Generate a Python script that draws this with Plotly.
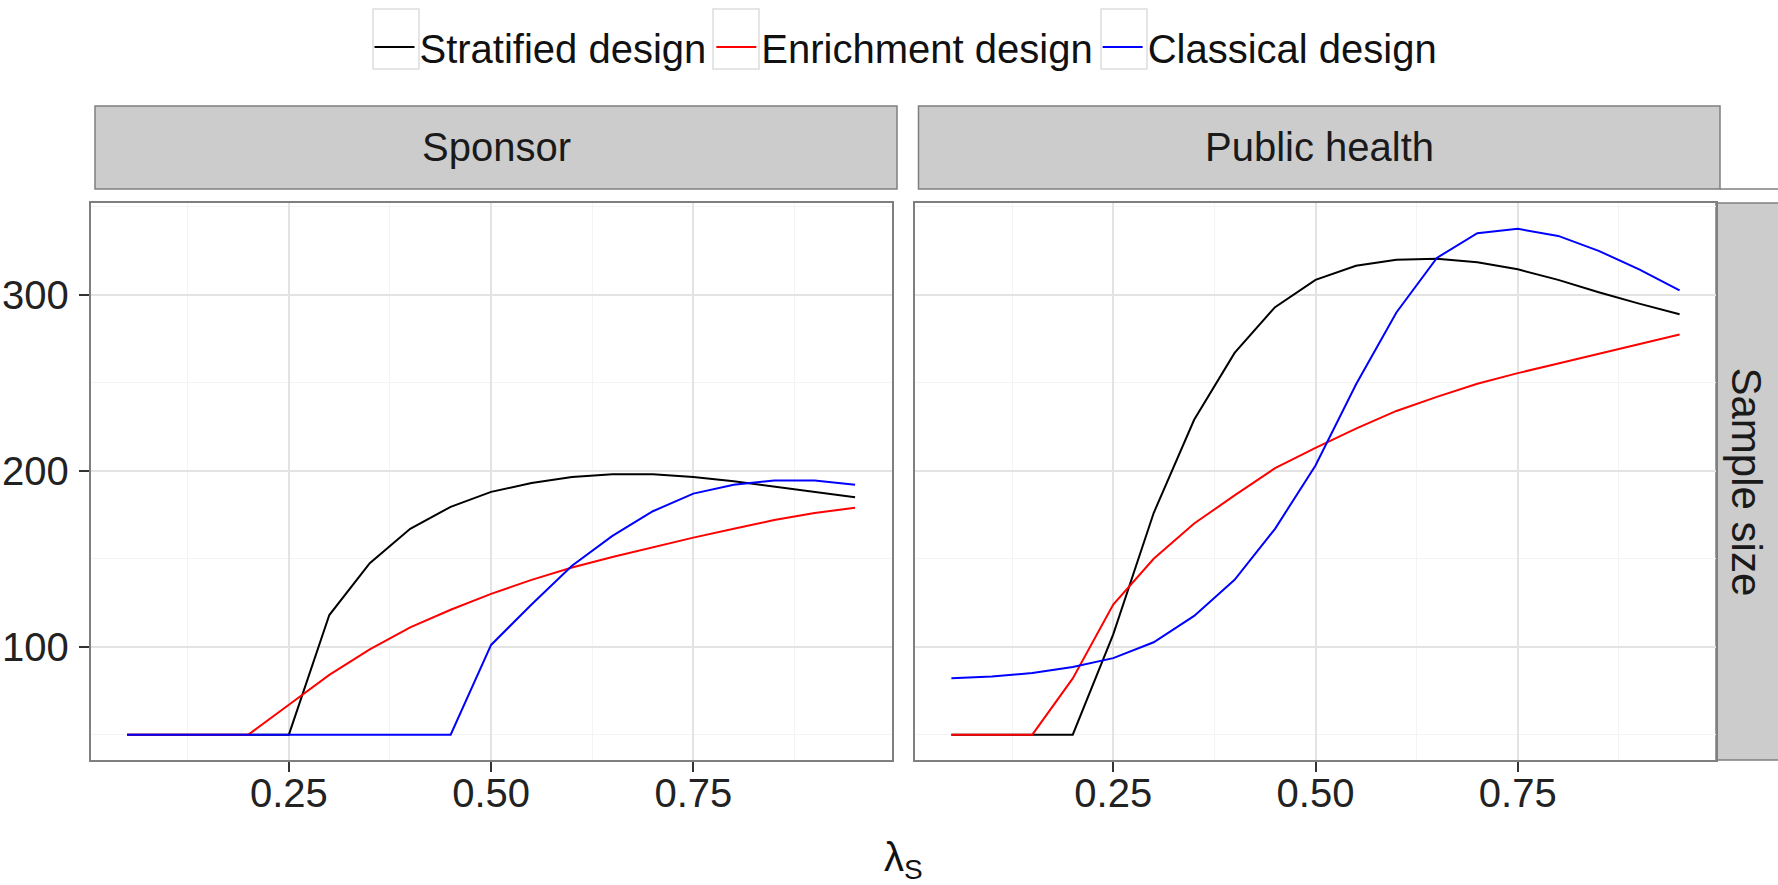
import plotly.graph_objects as go

# ---------------- data ----------------
lambda_s = [0.05, 0.10, 0.15, 0.20, 0.25, 0.30, 0.35, 0.40, 0.45, 0.50,
            0.55, 0.60, 0.65, 0.70, 0.75, 0.80, 0.85, 0.90, 0.95]

series_names = ["Stratified design", "Enrichment design", "Classical design"]
series_colors = ["#000000", "#ff0000", "#0000ff"]
panel_names = ["Sponsor", "Public health"]

sponsor_stratified = [50, 50, 50, 50, 50, 118, 147.5, 167, 179.5, 188,
                      193, 196.5, 198, 198, 196.5, 194, 191, 188, 185]
sponsor_enrichment = [50, 50, 50, 50, 67, 84, 98.5, 111, 121, 130,
                      138, 145, 151, 156.5, 162, 167, 172, 176, 179]
sponsor_classical = [50, 50, 50, 50, 50, 50, 50, 50, 50, 101,
                     124, 146, 163, 177, 187, 192, 194.5, 194.5, 192]

public_stratified = [50, 50, 50, 50, 107, 176, 229, 267, 293, 308.5,
                     316.5, 320, 320.5, 318.5, 314.5, 308.5, 301.5, 295, 289]
public_enrichment = [50, 50, 50, 82, 124, 150, 170, 186, 201.5, 213,
                     224, 234, 242, 249.5, 255.5, 261, 266.5, 272, 277.5]
public_classical = [82, 83, 85, 88.5, 93.5, 102.5, 117.5, 138, 167, 203,
                    249, 290, 321, 335, 337.5, 333.5, 325, 314.5, 302.5]

x_tick_vals = [0.25, 0.50, 0.75]
x_tick_text = ["0.25", "0.50", "0.75"]
y_tick_vals = [100, 200, 300]
y_tick_text = ["100", "200", "300"]

# ---------------- figure ----------------
W, H = 1778, 885
NARROW = "Liberation Sans Narrow, Arial Narrow, Liberation Sans, Arial, sans-serif"
REG = "Liberation Sans, Arial, sans-serif"
FS = 40

def px(x):
    return x / W

def py(y):
    return 1 - y / H

panels = [
    (["x", "y"], [sponsor_stratified, sponsor_enrichment, sponsor_classical]),
    (["x2", "y2"], [public_stratified, public_enrichment, public_classical]),
]

fig = go.Figure()
for pi, (axes, vals) in enumerate(panels):
    for si, v in enumerate(vals):
        fig.add_trace(go.Scatter(
            x=lambda_s, y=v, mode="lines",
            name=series_names[si],
            line=dict(color=series_colors[si], width=2),
            xaxis=axes[0], yaxis=axes[1],
            showlegend=(pi == 0),
            legendgroup=series_names[si],
        ))

grid_major = "#e3e3e3"
grid_minor = "#f4f4f4"
border = "#7f7f7f"

xdom1 = [px(90.7), px(891.5)]
xdom2 = [px(915), px(1716)]
ydom = [py(760), py(203)]

common_x = dict(
    range=[0.005, 0.995], tickvals=x_tick_vals, ticktext=x_tick_text,
    showgrid=True, gridcolor=grid_major, gridwidth=1.5,
    minor=dict(tickvals=[0.125, 0.375, 0.625, 0.875], showgrid=True,
               gridcolor=grid_minor, gridwidth=1),
    ticks="outside", ticklen=10, tickwidth=1.5, tickcolor="#333333",
    ticklabelstandoff=-13,
    showline=True, mirror=True, linecolor=border, linewidth=2,
    zeroline=False, tickfont=dict(family=NARROW, size=FS, color="#222222"),
    fixedrange=True,
)
common_y = dict(
    range=[35.6, 352.2], tickvals=y_tick_vals, ticktext=y_tick_text,
    showgrid=True, gridcolor=grid_major, gridwidth=1.5,
    minor=dict(tickvals=[50, 150, 250, 350], showgrid=True,
               gridcolor=grid_minor, gridwidth=1),
    showline=True, mirror=True, linecolor=border, linewidth=2,
    zeroline=False, tickfont=dict(family=NARROW, size=FS, color="#222222"),
    fixedrange=True, domain=ydom,
)

fig.update_layout(
    width=W, height=H,
    margin=dict(l=0, r=0, t=0, b=0),
    paper_bgcolor="white", plot_bgcolor="white",
    xaxis=dict(domain=xdom1, anchor="y", **common_x),
    xaxis2=dict(domain=xdom2, anchor="y2", **common_x),
    yaxis=dict(anchor="x", ticks="outside", ticklen=10, tickwidth=1.5,
               tickcolor="#333333", ticklabelstandoff=2, **common_y),
    yaxis2=dict(anchor="x2", matches="y", showticklabels=False, ticks="",
                **common_y),
    legend=dict(orientation="h", x=px(906), xanchor="center",
                y=py(47), yanchor="middle",
                font=dict(family=NARROW, size=FS, color="#111111"),
                bgcolor="rgba(0,0,0,0)", itemwidth=40),
    showlegend=True,
)

shapes = []
annotations = []
# legend key boxes (ggplot style key background)
for cx in [396, 736, 1124]:
    shapes.append(dict(type="rect", xref="paper", yref="paper",
                       x0=px(cx - 23), x1=px(cx + 23), y0=py(69), y1=py(9),
                       fillcolor="white", line=dict(color="#dddddd", width=1.5),
                       layer="below"))
# top strips
for name, (x0, x1) in zip(panel_names, [(95, 897), (918.5, 1720)]):
    shapes.append(dict(type="rect", xref="paper", yref="paper",
                       x0=px(x0), x1=px(x1), y0=py(189), y1=py(106),
                       fillcolor="#cccccc", line=dict(color=border, width=1.5),
                       layer="below"))
    annotations.append(dict(text=name, xref="paper", yref="paper",
                            x=px((x0 + x1) / 2), y=py(147.5),
                            showarrow=False, xanchor="center", yanchor="middle",
                            font=dict(family=NARROW, size=FS, color="#1a1a1a")))
# right strip (cropped at the image edge)
shapes.append(dict(type="rect", xref="paper", yref="paper",
                   x0=px(1716), x1=px(1790), y0=py(760), y1=py(203),
                   fillcolor="#cccccc", line=dict(color=border, width=1.5),
                   layer="below"))
shapes.append(dict(type="line", xref="paper", yref="paper",
                   x0=px(1720), x1=1, y0=py(189), y1=py(189),
                   line=dict(color=border, width=1.5)))
annotations.append(dict(text="Sample size", xref="paper", yref="paper",
                        x=px(1746), y=py(481.5), textangle=90,
                        showarrow=False, xanchor="center", yanchor="middle",
                        font=dict(family=REG, size=42, color="#1a1a1a")))
# x-axis title
annotations.append(dict(text="λ<sub>S</sub>", xref="paper", yref="paper",
                        x=px(903), y=py(860), showarrow=False,
                        xanchor="center", yanchor="middle",
                        font=dict(family=NARROW, size=FS, color="#111111")))

fig.update_layout(shapes=shapes, annotations=annotations)

fig.write_html("out.html", config={"displayModeBar": False},
               post_script="document.body.style.margin='0px';")
